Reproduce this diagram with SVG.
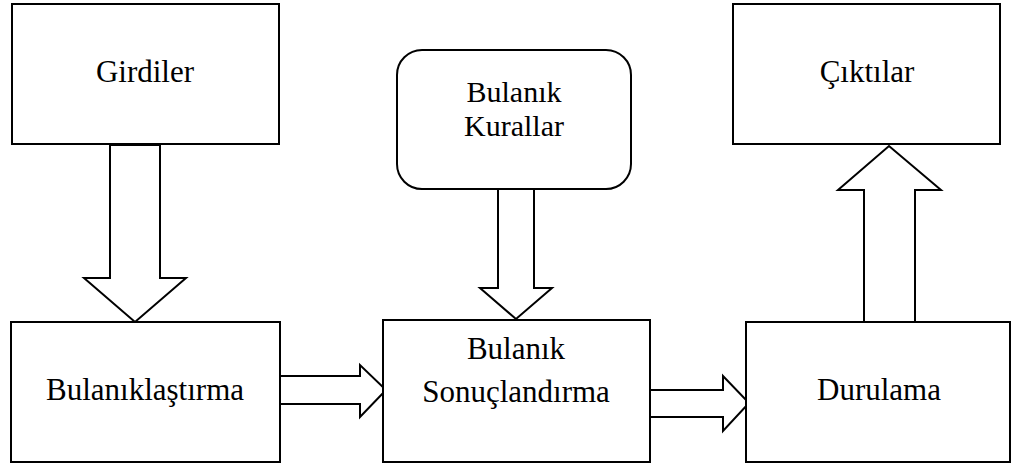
<svg xmlns="http://www.w3.org/2000/svg" width="1014" height="466" viewBox="0 0 1014 466">
<style>
.box{fill:#fff;stroke:#000;stroke-width:2}
.arr{fill:#fff;stroke:#000;stroke-width:2;stroke-linejoin:miter}
text{font-family:"Liberation Serif","Times New Roman",serif;font-size:31px;fill:#000;text-anchor:middle}
.tight{font-size:30px}
</style>
<rect width="1014" height="466" fill="#fff"/>
<g id="connectors">
<polygon class="arr" points="110,145 160,145 160,278 186,278 135,322 84,278 110,278"/>
<polygon class="arr" points="498,189 534,189 534,288 552,288 516,319 480,288 498,288"/>
<polygon class="arr" points="864,322 915,322 915,190 941,190 889,146 838,190 864,190"/>
<polygon class="arr" points="280,376 360,376 360,365 386,390 360,417 360,404 280,404"/>
<polygon class="arr" points="650,390 723,390 723,376 749,403 723,431 723,417 650,417"/>
</g>
<g id="girdiler">
<rect class="box" x="12" y="4" width="267" height="140"/>
<text x="145" y="82">Girdiler</text>
</g>
<g id="bulanik-kurallar">
<rect class="box" x="397" y="50" width="234" height="139" rx="25" ry="25"/>
<text class="tight" x="514" y="102">Bulanık</text>
<text class="tight" x="514" y="136">Kurallar</text>
</g>
<g id="ciktilar">
<rect class="box" x="733" y="4" width="267" height="140"/>
<text x="867" y="82">Çıktılar</text>
</g>
<g id="bulaniklastirma">
<rect class="box" x="11" y="322" width="269" height="140"/>
<text x="145" y="400">Bulanıklaştırma</text>
</g>
<g id="bulanik-sonuclandirma">
<rect class="box" x="383" y="320" width="267" height="142"/>
<text x="516" y="359">Bulanık</text>
<text x="516" y="402">Sonuçlandırma</text>
</g>
<g id="durulama">
<rect class="box" x="746" y="322" width="264" height="140"/>
<text x="879" y="400">Durulama</text>
</g>
</svg>
